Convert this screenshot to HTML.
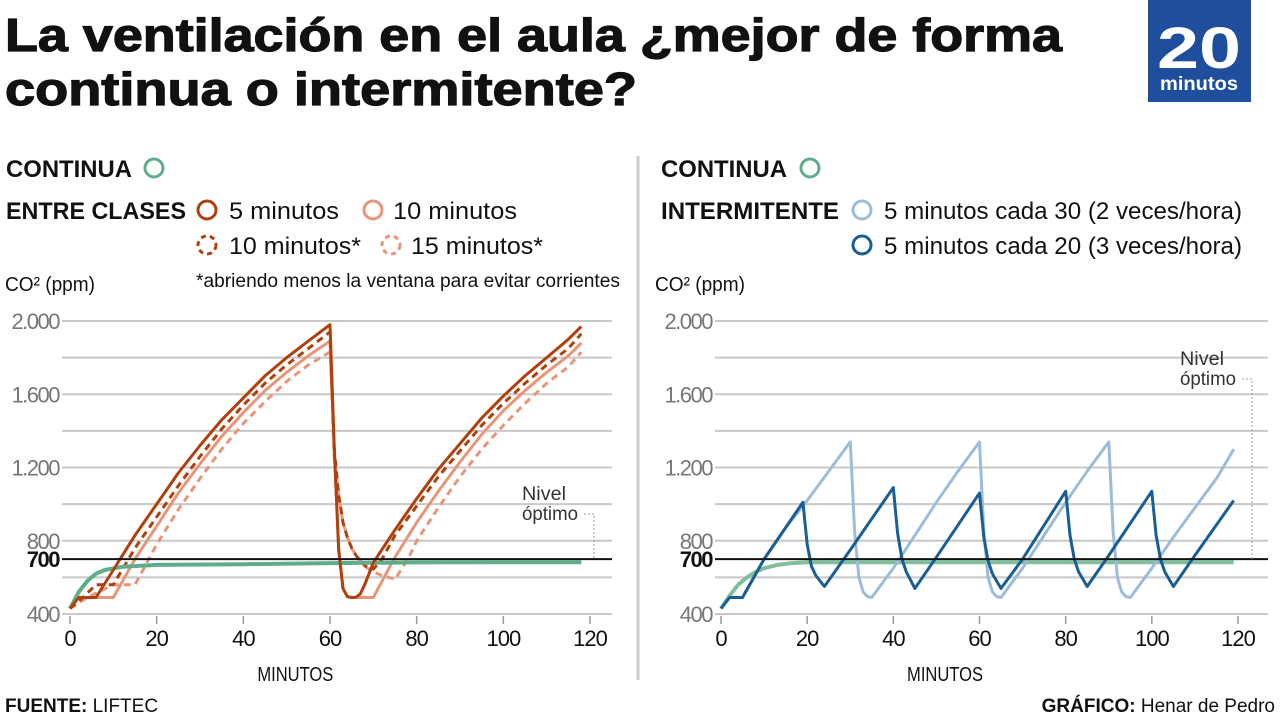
<!DOCTYPE html>
<html><head><meta charset="utf-8"><style>
html,body{margin:0;padding:0;background:#fff;width:1280px;height:720px;overflow:hidden}
svg{display:block;font-family:"Liberation Sans Narrow","Liberation Sans",sans-serif}
</style></head><body>
<svg id="c" width="1280" height="720" viewBox="0 0 1280 720">
<g font-family="Liberation Sans" font-weight="bold" fill="#111" stroke="#111" stroke-width="1.2">
<text x="5" y="51" font-size="46" textLength="1057" lengthAdjust="spacingAndGlyphs">La ventilación en el aula ¿mejor de forma</text>
<text x="5" y="105" font-size="46" textLength="632" lengthAdjust="spacingAndGlyphs">continua o intermitente?</text>
</g>
<g>
<rect x="1148" y="0" width="103" height="102" fill="#1f4f9c"/>
<text x="1199" y="68" font-family="Liberation Sans" font-weight="bold" font-size="58" fill="#fff" text-anchor="middle" textLength="84" lengthAdjust="spacingAndGlyphs">20</text>
<text x="1199" y="90" font-family="Liberation Sans" font-weight="bold" font-size="19" fill="#fff" text-anchor="middle" textLength="78" lengthAdjust="spacingAndGlyphs">minutos</text>
</g>
<line x1="638" y1="156" x2="638" y2="680" stroke="#ccc" stroke-width="3"/>
<g font-size="24" fill="#111">
<text x="6" y="177" font-weight="bold" textLength="126" lengthAdjust="spacingAndGlyphs">CONTINUA</text>
<circle cx="154" cy="168" r="9" fill="none" stroke="#5fae8a" stroke-width="3"/>
<text x="6" y="219" font-weight="bold" textLength="180" lengthAdjust="spacingAndGlyphs">ENTRE CLASES</text>
<circle cx="207" cy="210" r="9" fill="none" stroke="#b0400e" stroke-width="3"/>
<text x="229" y="219" textLength="110" lengthAdjust="spacingAndGlyphs">5 minutos</text>
<circle cx="373" cy="210" r="9" fill="none" stroke="#e8967a" stroke-width="3"/>
<text x="393" y="219" textLength="124" lengthAdjust="spacingAndGlyphs">10 minutos</text>
<circle cx="207" cy="245" r="9" fill="none" stroke="#b0400e" stroke-width="3" stroke-dasharray="5 4"/>
<text x="229" y="254" textLength="132" lengthAdjust="spacingAndGlyphs">10 minutos*</text>
<circle cx="391" cy="245" r="9" fill="none" stroke="#e8967a" stroke-width="3" stroke-dasharray="5 4"/>
<text x="411" y="254" textLength="132" lengthAdjust="spacingAndGlyphs">15 minutos*</text>
<text x="196" y="287" font-size="19" textLength="424" lengthAdjust="spacingAndGlyphs">*abriendo menos la ventana para evitar corrientes</text>
<text x="5" y="291" font-size="20" textLength="90" lengthAdjust="spacingAndGlyphs">CO² (ppm)</text>
</g>
<g font-size="24" fill="#111">
<text x="661" y="177" font-weight="bold" textLength="126" lengthAdjust="spacingAndGlyphs">CONTINUA</text>
<circle cx="810" cy="168" r="9" fill="none" stroke="#5fae8a" stroke-width="3"/>
<text x="661" y="219" font-weight="bold" textLength="178" lengthAdjust="spacingAndGlyphs">INTERMITENTE</text>
<circle cx="862" cy="210" r="9" fill="none" stroke="#9dbcd9" stroke-width="3"/>
<text x="884" y="219" textLength="358" lengthAdjust="spacingAndGlyphs">5 minutos cada 30 (2 veces/hora)</text>
<circle cx="862" cy="245" r="9" fill="none" stroke="#1a5e96" stroke-width="3"/>
<text x="884" y="254" textLength="358" lengthAdjust="spacingAndGlyphs">5 minutos cada 20 (3 veces/hora)</text>
<text x="655" y="291" font-size="20" textLength="90" lengthAdjust="spacingAndGlyphs">CO² (ppm)</text>
</g>
<g id="left"></g>
<g id="right"></g>
<text x="5" y="712" font-size="19" font-weight="bold" fill="#111">FUENTE: <tspan font-weight="normal">LIFTEC</tspan></text>
<text x="1275" y="712" font-size="19" font-weight="bold" fill="#111" text-anchor="end">GRÁFICO: <tspan font-weight="normal">Henar de Pedro</tspan></text>
</svg>
<script>
const yGrid=[2000,1800,1600,1400,1200,1000,800,600,400];
const yLabels=[2000,1600,1200,800,700,400];
const yLabelText=["2.000","1.600","1.200","800","700","400"];
const xTicks=[0,20,40,60,80,100,120];
const optimo=700;
// left series: minutes & ppm
const lGreenX=[0,2,4,6,8,12,20,40,60,80,100,118];
const lGreenY=[430,520,580,620,640,658,668,672,678,682,683,683];
const l5X=[0,2,6,10,15,20,25,30,35,40,45,50,55,60,61,62,63,64,65,66,67,68,70,75,80,85,90,95,100,105,110,115,118];
const l5Y=[430,490,490,640,830,1000,1170,1320,1460,1580,1700,1800,1890,1980,1300,750,540,495,490,492,510,560,680,860,1030,1190,1330,1470,1590,1700,1800,1900,1970];
const l10dX=[0,3,6,10,15,20,25,30,35,40,45,50,55,60,61,62,63,64,65,66,67,68,69,70,72,75,80,85,90,95,100,105,110,115,118];
const l10dY=[430,490,560,560,760,930,1100,1260,1410,1540,1660,1760,1850,1940,1300,1050,900,820,760,720,690,665,650,645,700,830,990,1150,1290,1430,1550,1660,1760,1850,1930];
const l10X=[0,2,10,15,20,25,30,35,40,45,50,55,60,61,62,63,64,65,70,75,80,85,90,95,100,105,110,115,118];
const l10Y=[430,490,490,700,880,1060,1220,1370,1500,1620,1720,1810,1890,1300,750,540,495,490,490,710,900,1070,1230,1380,1510,1620,1720,1810,1880];
const l15dX=[0,4,10,15,20,25,30,35,40,45,50,55,60,61,62,63,64,65,66,68,70,72,75,78,80,85,90,95,100,105,110,115,118];
const l15dY=[430,490,560,560,780,970,1140,1300,1440,1560,1670,1760,1830,1250,1050,900,820,760,720,660,630,610,590,700,800,980,1150,1300,1430,1550,1660,1750,1830];
// right series
const rGreenX=[0,2,4,6,8,10,13,16,20,60,119];
const rGreenY=[430,500,560,600,630,650,668,677,683,683,683];
const r30X=[0,2,5,10,15,20,25,30,31,32,33,34,35,40,45,50,55,60,61,62,63,64,65,70,75,80,85,90,91,92,93,94,95,100,105,110,115,119];
const r30Y=[430,490,490,700,870,1020,1180,1340,850,600,520,495,490,650,830,1010,1180,1340,850,600,520,495,490,650,830,1010,1180,1340,850,600,520,495,490,650,820,980,1140,1300];
const r20X=[0,2,5,10,19,20,21,22,24,30,40,41,42,43,45,50,60,61,62,63,65,70,80,81,82,83,85,90,100,101,102,103,105,110,119];
const r20Y=[430,490,490,700,1010,780,660,610,550,750,1090,840,700,630,540,710,1060,820,690,620,540,700,1070,830,700,630,550,720,1070,830,700,630,550,720,1020];

const NS="http://www.w3.org/2000/svg";
function mk(p,t,a){const e=document.createElementNS(NS,t);for(const k in a)e.setAttribute(k,a[k]);p.appendChild(e);return e;}
function yS(v){return 614-(v-400)*(293/1600);}
function chart(g,x0,x1,gl,gr,nivX,nivY,series){
  const xS=m=>x0+(x1-x0)*m/120;
  yGrid.forEach(v=>{const l=mk(g,'line',{x1:gl,x2:gr,y1:yS(v),y2:yS(v),stroke:'#c8c8c8','stroke-width':2});
    
    });
  yLabels.forEach((v,i)=>{const t=mk(g,'text',{x:gl-3,y:yS(v)+8,'text-anchor':'end','font-size':22,fill:v===700?'#111':'#777','letter-spacing':'-1.5','font-weight':v===700?'bold':'normal'});t.textContent=yLabelText[i];
    
    });
  xTicks.forEach(m=>{const l=mk(g,'line',{x1:xS(m),x2:xS(m),y1:616,y2:624,stroke:'#999','stroke-width':1.5});
    
    
    const t=mk(g,'text',{x:xS(m),y:646,'text-anchor':'middle','font-size':22,fill:'#111','letter-spacing':'-1'});t.textContent=m;
    
    });
  const xt=mk(g,'text',{x:xS(52),y:681,'text-anchor':'middle','font-size':20,fill:'#111',textLength:76,lengthAdjust:'spacingAndGlyphs'});xt.textContent='MINUTOS';
  
  
  series.forEach(s=>{
    const pts=s.x.map((m,i)=>xS(m).toFixed(1)+','+yS(s.y[i]).toFixed(1)).join(' ');
    const p=mk(g,'polyline',{points:pts,fill:'none',stroke:s.c,'stroke-width':s.w||3,'stroke-linejoin':'round','stroke-dasharray':s.d||'none'});
    
    });
  const ol=mk(g,'line',{x1:gl,x2:gr,y1:yS(optimo),y2:yS(optimo),stroke:'#111','stroke-width':2});
  
  
  const n1=mk(g,'text',{x:nivX,y:nivY,'font-size':19,fill:'#333',textLength:44,lengthAdjust:'spacingAndGlyphs'});n1.textContent='Nivel';
  
  
  const n2=mk(g,'text',{x:nivX,y:nivY+20,'font-size':19,fill:'#333',textLength:56,lengthAdjust:'spacingAndGlyphs'});n2.textContent='óptimo';
  const lx=nivX+70;
  const ld=mk(g,'polyline',{points:`${nivX+62},${nivY+14} ${lx+2},${nivY+14} ${lx+2},${yS(optimo)}`,fill:'none',stroke:'#999','stroke-width':1,'stroke-dasharray':'2 2'});
  
  
}
chart(document.getElementById('left'),70,590,62,612,522,500,[
 {n:'series-15min-dashed',x:l15dX,y:l15dY,c:'#e8967a',d:'7 5'},
 {n:'series-10min',x:l10X,y:l10Y,c:'#e8967a'},
 {n:'series-10min-dashed',x:l10dX,y:l10dY,c:'#b0400e',d:'7 5'},
 {n:'series-continua',x:lGreenX,y:lGreenY,c:'#5fae8a',w:4},
 {n:'series-5min',x:l5X,y:l5Y,c:'#b0400e'}]);
chart(document.getElementById('right'),721,1238,715,1268,1180,365,[
 {n:'series-continua',x:rGreenX,y:rGreenY,c:'#7fbf9c',w:4},
 {n:'series-cada30',x:r30X,y:r30Y,c:'#9dbcd9'},
 {n:'series-cada20',x:r20X,y:r20Y,c:'#1a5e96'}]);
</script>
</body></html>
